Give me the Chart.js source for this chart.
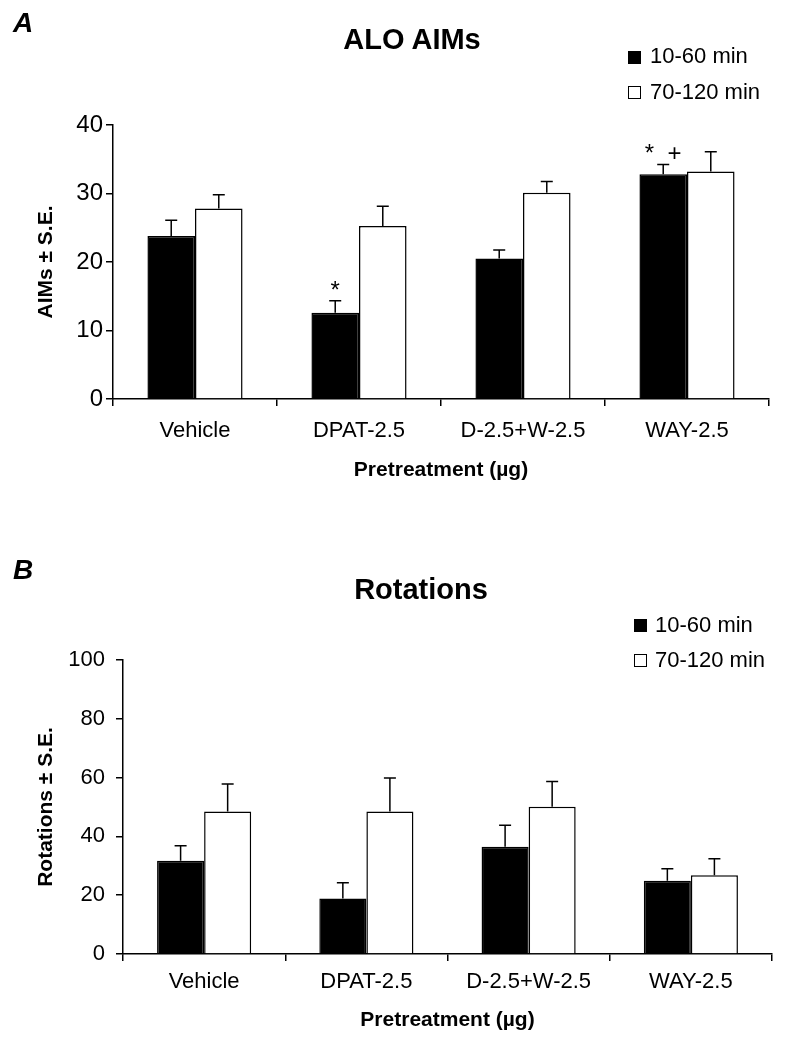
<!DOCTYPE html>
<html>
<head>
<meta charset="utf-8">
<script src="https://cdn.jsdelivr.net/npm/chart.js@4.4.1/dist/chart.umd.min.js"></script>
<style>
  body { margin: 0; background: #fff; font-family: "Liberation Sans", Arial, sans-serif; color: #000; }
  #page { position: relative; width: 791px; height: 1050px; overflow: hidden; }
  canvas { position: absolute; left: 0; }
  .lbl { position: absolute; white-space: nowrap; line-height: 30px; height: 30px; }
  .panel { font-weight: bold; font-style: italic; font-size: 28px; }
  .title { font-weight: bold; font-size: 29px; transform: translateX(-50%); }
  .leg { font-size: 22px; }
  .sw { position: absolute; width: 11px; height: 11px; border: 1px solid #000; }
</style>
</head>
<body>
<div id="page">
  <canvas id="chartA" width="791" height="525" style="top:0"></canvas>
  <canvas id="chartB" width="791" height="525" style="top:525px"></canvas>

  <!-- panel A labels -->
  <div class="lbl panel" style="left:13px;top:8px">A</div>
  <div class="lbl title" style="left:412px;top:24px">ALO AIMs</div>
  <div class="sw" style="left:628px;top:51px;background:#000"></div>
  <div class="lbl leg" style="left:650px;top:41px" id="legA1"></div>
  <div class="sw" style="left:628px;top:86px;background:#fff"></div>
  <div class="lbl leg" style="left:650px;top:77px" id="legA2"></div>

  <!-- panel B labels -->
  <div class="lbl panel" style="left:13px;top:555px">B</div>
  <div class="lbl title" style="left:421px;top:574px">Rotations</div>
  <div class="sw" style="left:634px;top:619px;background:#000"></div>
  <div class="lbl leg" style="left:655px;top:610px" id="legB1"></div>
  <div class="sw" style="left:634px;top:654px;background:#fff"></div>
  <div class="lbl leg" style="left:655px;top:645px" id="legB2"></div>
</div>

<script>
/* ---- data ---- */
const categories = ['Vehicle', 'DPAT-2.5', 'D-2.5+W-2.5', 'WAY-2.5'];
const seriesNames = ['10-60 min', '70-120 min'];

// panel A: ALO AIMs
const aimsEarly   = [23.8, 12.6, 20.5, 32.8];
const aimsEarlySE = [2.3, 1.75, 1.25, 1.45];
const aimsLate    = [27.8, 25.25, 30.1, 33.2];
const aimsLateSE  = [2.0, 2.9, 1.65, 2.9];
const aimsMarks   = ['', '*', '', '*  +'];   // significance marks over early bars
const aimsTicks   = [0, 10, 20, 30, 40];

// panel B: rotations
const rotEarly   = [31.7, 18.9, 36.5, 24.9];
const rotEarlySE = [5.1, 5.3, 7.3, 4.1];
const rotLate    = [48.5, 48.5, 50.1, 26.8];
const rotLateSE  = [9.3, 11.4, 8.6, 5.6];
const rotMarks   = ['', '', '', ''];
const rotTicks   = [0, 20, 40, 60, 80, 100];

document.getElementById('legA1').textContent = seriesNames[0];
document.getElementById('legA2').textContent = seriesNames[1];
document.getElementById('legB1').textContent = seriesNames[0];
document.getElementById('legB2').textContent = seriesNames[1];

const FONT = '"Liberation Sans", Arial, sans-serif';

/* ---- one-sided error bars + significance marks ---- */
const errorBars = {
  id: 'errorBars',
  afterDatasetsDraw(chart, args, opts) {
    const { ctx } = chart;
    const y = chart.scales.y;
    ctx.save();
    ctx.strokeStyle = '#000';
    ctx.lineWidth = 1.5;
    chart.data.datasets.forEach((ds, i) => {
      chart.getDatasetMeta(i).data.forEach((bar, j) => {
        const top = y.getPixelForValue(ds.data[j] + ds.se[j]);
        ctx.beginPath();
        ctx.moveTo(bar.x, bar.y);
        ctx.lineTo(bar.x, top);
        ctx.moveTo(bar.x - 6, top);
        ctx.lineTo(bar.x + 6, top);
        ctx.stroke();
      });
    });
    // marks over the first series
    const ds = chart.data.datasets[0];
    ctx.fillStyle = '#000';
    ctx.font = '24px ' + FONT;
    ctx.textAlign = 'center';
    ctx.textBaseline = 'alphabetic';
    chart.getDatasetMeta(0).data.forEach((bar, j) => {
      const m = opts.marks[j];
      if (!m) return;
      const top = y.getPixelForValue(ds.data[j] + ds.se[j]);
      ctx.fillText(m, bar.x, top - 3);
    });
    ctx.restore();
  }
};

function makeChart(id, p) {
  return new Chart(document.getElementById(id), {
    type: 'bar',
    data: {
      labels: categories,
      datasets: [
        { label: seriesNames[0], data: p.early, se: p.earlySE,
          backgroundColor: '#000', borderColor: '#000', borderWidth: 1.5 },
        { label: seriesNames[1], data: p.late, se: p.lateSE,
          backgroundColor: '#fff', borderColor: '#000', borderWidth: 1.5 }
      ]
    },
    options: {
      responsive: false,
      animation: false,
      layout: { padding: p.padding },
      datasets: { bar: { categoryPercentage: 0.58, barPercentage: 1 } },
      scales: {
        x: {
          afterFit: s => { s.height = p.xHeight; },
          border: { color: '#000', width: 1.5 },
          grid: { display: true, drawOnChartArea: false, offset: true,
                  color: '#000', lineWidth: 1.5, tickLength: 7 },
          ticks: { color: '#000', padding: p.xTickPad, font: { family: FONT, size: 22 } },
          title: { display: true, text: 'Pretreatment (\u00b5g)', color: '#000',
                   padding: { top: 0, bottom: p.xTitlePad },
                   font: { family: FONT, size: 21, weight: 'bold' } }
        },
        y: {
          min: p.ticks[0],
          max: p.ticks[p.ticks.length - 1],
          afterFit: s => { s.width = p.yWidth; },
          afterBuildTicks: s => { s.ticks = p.ticks.map(v => ({ value: v })); },
          border: { color: '#000', width: 1.5 },
          grid: { display: true, drawOnChartArea: false,
                  color: '#000', lineWidth: 1.5, tickLength: 7 },
          ticks: { color: '#000', padding: p.yTickPad, font: { family: FONT, size: p.yTickSize } },
          title: { display: true, text: p.yTitle, color: '#000',
                   padding: { top: 34, bottom: 0 },
                   font: { family: FONT, size: 21, weight: 'bold' } }
        }
      },
      plugins: {
        legend: { display: false },
        tooltip: { enabled: false },
        errorBars: { marks: p.marks }
      }
    },
    plugins: [errorBars]
  });
}

makeChart('chartA', {
  early: aimsEarly, earlySE: aimsEarlySE, late: aimsLate, lateSE: aimsLateSE,
  marks: aimsMarks, ticks: aimsTicks, yTitle: 'AIMs \u00b1 S.E.',
  padding: { left: 0, right: 22, top: 125, bottom: 36 },
  xHeight: 90, yWidth: 113, xTickPad: 12, xTitlePad: 6,
  yTickSize: 24, yTickPad: 3
});

makeChart('chartB', {
  early: rotEarly, earlySE: rotEarlySE, late: rotLate, lateSE: rotLateSE,
  marks: rotMarks, ticks: rotTicks, yTitle: 'Rotations \u00b1 S.E.',
  padding: { left: 0, right: 19, top: 135, bottom: 6 },
  xHeight: 90, yWidth: 123, xTickPad: 8, xTitlePad: 11,
  yTickSize: 22, yTickPad: 11
});
</script>
</body>
</html>
